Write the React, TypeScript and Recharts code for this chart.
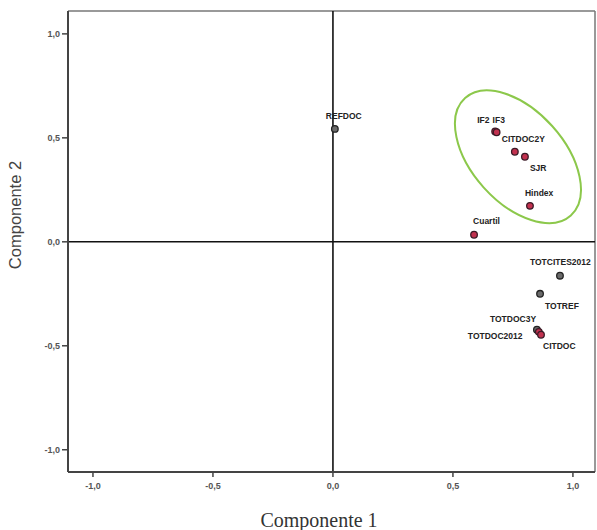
import React from 'react';
import { ScatterChart, Scatter, XAxis, YAxis, ReferenceLine, ReferenceDot, Label } from 'recharts';

// Variable names (loadings plot)
const variables = ['REFDOC', 'IF2', 'IF3', 'CITDOC2Y', 'SJR', 'Hindex', 'Cuartil', 'TOTCITES2012', 'TOTREF', 'TOTDOC3Y', 'TOTDOC2012', 'CITDOC'];
// Componente 1 loadings
const componente1 = [0.008, 0.676, 0.682, 0.758, 0.8, 0.821, 0.588, 0.946, 0.863, 0.85, 0.858, 0.867];
// Componente 2 loadings
const componente2 = [0.543, 0.531, 0.527, 0.433, 0.409, 0.173, 0.034, -0.163, -0.25, -0.423, -0.433, -0.447];
// Group membership (highlighted red points)
const groups = ['otro', 'rojo', 'rojo', 'rojo', 'rojo', 'rojo', 'rojo', 'otro', 'otro', 'otro', 'rojo', 'rojo'];

const xTicks = [-1.0, -0.5, 0.0, 0.5, 1.0];
const yTicks = [-1.0, -0.5, 0.0, 0.5, 1.0];

// Ellipse annotation centre (data coordinates)
const ellipseCentre = { x: 0.771, y: 0.409 };

const data = variables.map((name, i) => ({
  name,
  c1: componente1[i],
  c2: componente2[i],
  group: groups[i],
}));

// Label placement relative to each point (pixels)
const labelOffsets: Record<string, [number, number]> = {
  REFDOC: [-9, -12],
  IF2: [-18, -11],
  IF3: [-4, -11],
  CITDOC2Y: [-13, -12],
  SJR: [5, 12],
  Hindex: [-5, -12],
  Cuartil: [-1, -13],
  TOTCITES2012: [-30, -13],
  TOTREF: [5, 13],
  TOTDOC3Y: [-47, -10],
  TOTDOC2012: [-71, 5],
  CITDOC: [2, 12],
};

const fmt = (v: number) => v.toFixed(1).replace('.', ',');

const PointShape = (props: any) => {
  const { cx, cy, payload } = props;
  if (cx == null || cy == null) return null;
  const red = payload.group === 'rojo';
  const [dx, dy] = labelOffsets[payload.name] || [4, -10];
  return (
    <g>
      <circle cx={cx} cy={cy} r={3.3} fill={red ? '#c2314f' : '#6a6a6a'} stroke={red ? '#3b1a26' : '#222'} strokeWidth={1.3} />
      <text
        x={cx + dx}
        y={cy + dy}
        dominantBaseline="middle"
        fontFamily="'Liberation Sans', Arial, sans-serif"
        fontSize={8.5}
        fontWeight="bold"
        fill="#222"
      >
        {payload.name}
      </text>
    </g>
  );
};

const EllipseShape = (props: any) => {
  const { cx, cy } = props;
  if (cx == null || cy == null) return null;
  return (
    <ellipse cx={cx} cy={cy} rx={79} ry={46} transform={`rotate(48 ${cx} ${cy})`} fill="none" stroke="#8cc84b" strokeWidth={2} />
  );
};

const tickStyle = { fontFamily: "'Liberation Sans', Arial, sans-serif", fontSize: 9, fontWeight: 'bold', fill: '#555' };

export default function App() {
  return (
    <div style={{ position: 'absolute', left: 0, top: 0, width: 597, height: 530, background: '#fff' }}>
      <ScatterChart width={597} height={530} margin={{ top: 11, right: 2, left: 0, bottom: 0 }}>
        <XAxis
          type="number"
          dataKey="c1"
          domain={[-1.104, 1.092]}
          ticks={xTicks}
          tickFormatter={fmt}
          allowDataOverflow
          height={58}
          tickSize={5}
          tickMargin={6}
          tick={tickStyle}
          axisLine={{ stroke: '#444', strokeWidth: 2 }}
          tickLine={{ stroke: '#444', strokeWidth: 1.5 }}
        >
          <Label
            content={() => (
              <text x={319} y={520} textAnchor="middle" dominantBaseline="central" fontFamily="'Liberation Serif', 'Times New Roman', serif" fontSize={20} fill="#333">
                Componente 1
              </text>
            )}
          />
        </XAxis>
        <YAxis
          type="number"
          dataKey="c2"
          domain={[-1.107, 1.11]}
          ticks={yTicks}
          tickFormatter={fmt}
          allowDataOverflow
          width={68}
          tickSize={6}
          tickMargin={2}
          tick={tickStyle}
          axisLine={{ stroke: '#444', strokeWidth: 2 }}
          tickLine={{ stroke: '#444', strokeWidth: 1.5 }}
        >
          <Label
            content={() => (
              <text x={15} y={215} textAnchor="middle" dominantBaseline="central" transform="rotate(-90 15 215)" fontFamily="'Liberation Sans', Arial, sans-serif" fontSize={16.5} fill="#444">
                Componente 2
              </text>
            )}
          />
        </YAxis>
        <ReferenceLine y={1.11} stroke="#777" strokeWidth={1.5} ifOverflow="extendDomain" />
        <ReferenceLine x={1.092} stroke="#777" strokeWidth={1.5} ifOverflow="extendDomain" />
        <ReferenceLine x={0} stroke="#111" strokeWidth={1.6} />
        <ReferenceLine y={0} stroke="#111" strokeWidth={1.6} />
        <ReferenceDot x={ellipseCentre.x} y={ellipseCentre.y} shape={EllipseShape} />
        <Scatter data={data} isAnimationActive={false} shape={PointShape} />
      </ScatterChart>
    </div>
  );
}
